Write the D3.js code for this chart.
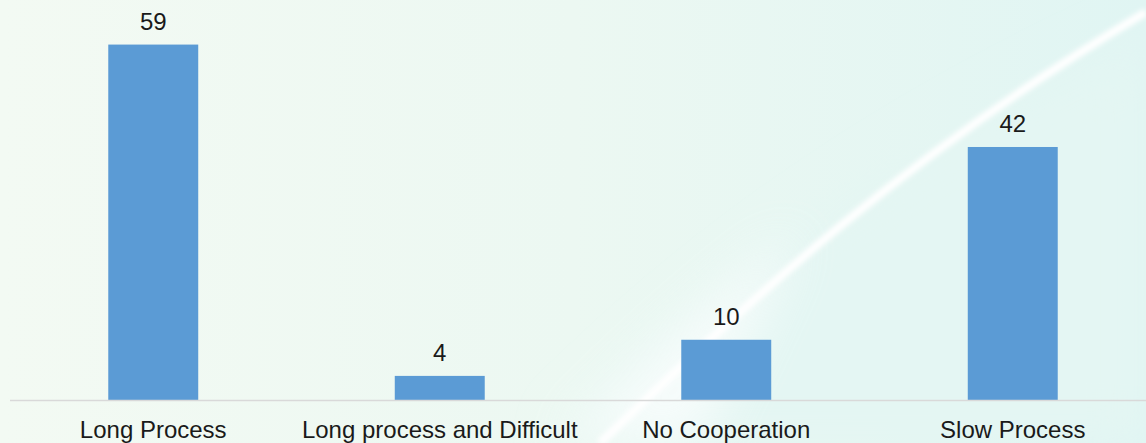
<!DOCTYPE html>
<html>
<head>
<meta charset="utf-8">
<script src="https://cdn.jsdelivr.net/npm/d3@7"></script>
<style>
  html, body { margin: 0; padding: 0; overflow: hidden; }
  svg { display: block; }
</style>
</head>
<body>
<script>
var categories = ["Long Process", "Long process and Difficult", "No Cooperation", "Slow Process"];
var values = [59, 4, 10, 42];

var width = 1146, height = 443;
var baseY = 400;

var svg = d3.select("body").append("svg")
    .attr("width", width)
    .attr("height", height);

var defs = svg.append("defs");

// background gradient
var bg = defs.append("linearGradient")
    .attr("id", "bg")
    .attr("x1", "0%").attr("y1", "0%")
    .attr("x2", "100%").attr("y2", "0%");
bg.append("stop").attr("offset", "0%").attr("stop-color", "#f3faf3");
bg.append("stop").attr("offset", "50%").attr("stop-color", "#ecf8f2");
bg.append("stop").attr("offset", "100%").attr("stop-color", "#e0f5f3");

var blur = defs.append("filter").attr("id", "blur")
    .attr("x", "-20%").attr("y", "-20%").attr("width", "140%").attr("height", "140%");
blur.append("feGaussianBlur").attr("stdDeviation", 2.5);

var blurWide = defs.append("filter").attr("id", "blurWide")
    .attr("x", "-30%").attr("y", "-30%").attr("width", "160%").attr("height", "160%");
blurWide.append("feGaussianBlur").attr("stdDeviation", 25);

svg.append("rect")
    .attr("width", width)
    .attr("height", height)
    .attr("fill", "url(#bg)");

// soft glow below the streak
svg.append("path")
    .attr("d", "M560,443 C700,300 880,160 1146,40 L1146,443 Z")
    .attr("fill", "#e4f6f3")
    .attr("filter", "url(#blurWide)");

svg.append("path")
    .attr("d", "M560,443 C650,350 720,290 800,230 L700,443 Z")
    .attr("fill", "#ffffff")
    .attr("opacity", 0.7)
    .attr("filter", "url(#blurWide)");

// diagonal light streak
svg.append("path")
    .attr("d", "M600,443 C720,330 880,170 1146,12")
    .attr("fill", "none")
    .attr("stroke", "#ffffff")
    .attr("stroke-width", 8)
    .attr("opacity", 1)
    .attr("filter", "url(#blur)");

var x = d3.scaleBand()
    .domain(categories)
    .range([10, 1156])
    .paddingInner(0.686)
    .paddingOuter(0.343);

var y = d3.scaleLinear()
    .domain([0, 66.4])
    .range([baseY, 0]);

// bars
svg.selectAll("rect.bar")
    .data(values)
    .enter()
    .append("rect")
    .attr("class", "bar")
    .attr("x", function(d, i) { return x(categories[i]); })
    .attr("y", function(d) { return y(d); })
    .attr("width", x.bandwidth())
    .attr("height", function(d) { return baseY - y(d); })
    .attr("fill", "#5b9bd5");

// axis line
svg.append("line")
    .attr("x1", 10).attr("x2", width)
    .attr("y1", baseY + 0.5).attr("y2", baseY + 0.5)
    .attr("stroke", "#d9d9d9")
    .attr("stroke-width", 1.5);

// value labels
svg.selectAll("text.value")
    .data(values)
    .enter()
    .append("text")
    .attr("class", "value")
    .attr("x", function(d, i) { return x(categories[i]) + x.bandwidth() / 2; })
    .attr("y", function(d) { return y(d) - 15; })
    .attr("text-anchor", "middle")
    .style("font-family", "'Liberation Sans', Arial, sans-serif")
    .style("font-size", "24px")
    .style("fill", "#1a1a1a")
    .text(function(d) { return d; });

// category labels
svg.selectAll("text.cat")
    .data(categories)
    .enter()
    .append("text")
    .attr("class", "cat")
    .attr("x", function(d) { return x(d) + x.bandwidth() / 2; })
    .attr("y", 438)
    .attr("text-anchor", "middle")
    .style("font-family", "'Liberation Sans', Arial, sans-serif")
    .style("font-size", "24px")
    .style("fill", "#1a1a1a")
    .text(function(d) { return d; });
</script>
</body>
</html>
